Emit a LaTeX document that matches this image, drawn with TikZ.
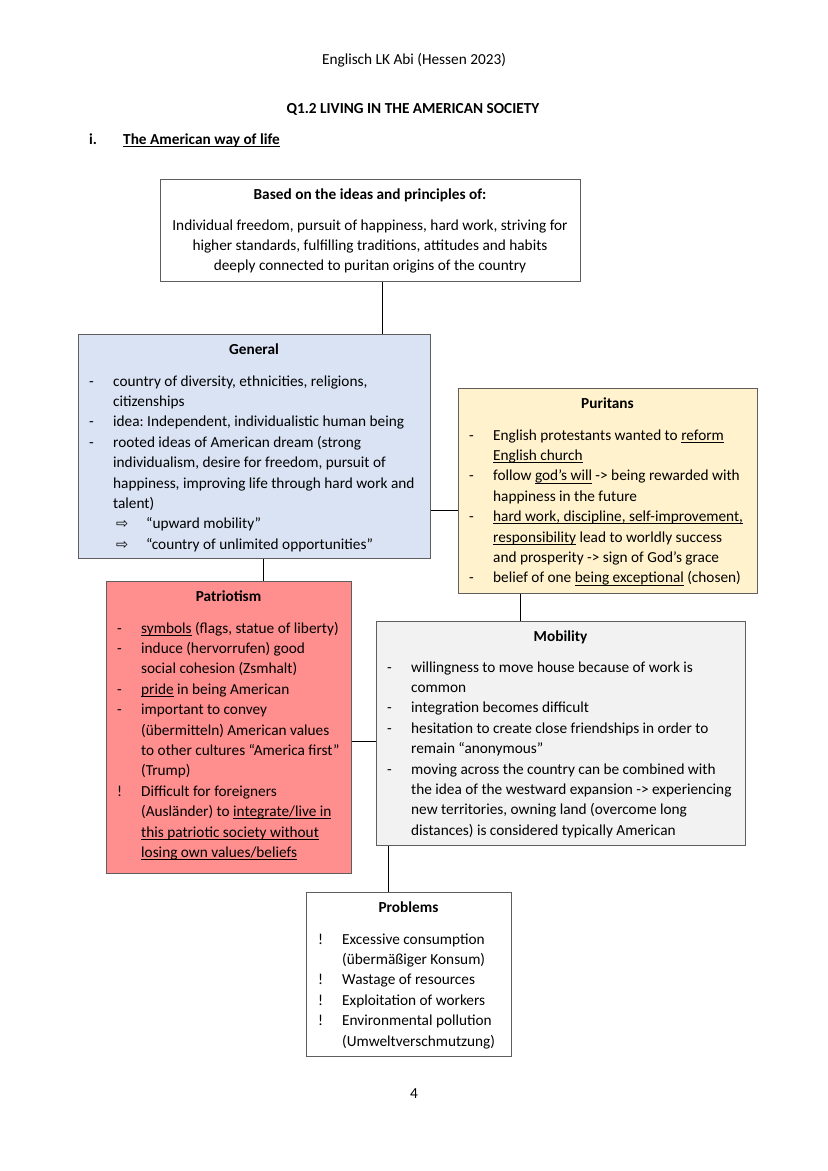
\documentclass[tikz,border=0pt]{standalone}
\usepackage{fontspec}
\setmainfont{Carlito}
\newfontfamily\symfont{DejaVu Sans}
\usetikzlibrary{calc}
\frenchspacing
\definecolor{genblue}{HTML}{DAE3F3}
\definecolor{puryellow}{HTML}{FFF2CC}
\definecolor{patred}{HTML}{FF8E8E}
\definecolor{mobgray}{HTML}{F2F2F2}
\definecolor{boxline}{HTML}{5E5E5E}
\newcommand{\uln}[1]{\setbox0\hbox{#1}\rlap{\rule[-2.6pt]{\wd0}{0.75pt}}\box0\relax}
\newcommand{\arr}{\makebox[33pt][l]{\hspace{3pt}{\symfont\fontsize{14.5}{14.5}\selectfont ⇨}}}
\newenvironment{blist}{\begin{tabular}[t]{@{}p{24pt}@{}l@{}}}{\end{tabular}}
\begin{document}
\begin{tikzpicture}[x=1pt,y=-1pt,
  txt/.style={inner sep=0pt, font=\fontsize{15.3}{20.4}\selectfont\frenchspacing},
  boxshape/.style={draw=boxline, line width=0.8pt, inner sep=0pt, anchor=north west},
  conn/.style={draw=black, line width=0.8pt}]
\useasboundingbox[fill=white] (0,0) rectangle (828,1171);

% header
\node[txt, anchor=base] (hdr) at (414,64) {Englisch LK Abi (Hessen 2023)};
\node[txt, anchor=base, font=\fontsize{15.3}{20.4}\selectfont\bfseries] (ttl) at (413,113) {Q1.2 LIVING IN THE AMERICAN SOCIETY};
\node[txt, anchor=base west, font=\fontsize{15.3}{20.4}\selectfont\bfseries] (secnum) at (89,144) {i.};
\node[txt, anchor=base west, font=\fontsize{15.3}{20.4}\selectfont\bfseries] (sec) at (123,144) {\uln{The American way of life}};

% boxes
\node[boxshape, minimum width=420pt, minimum height=102pt] (top) at (160,179) {};
\node[boxshape, fill=genblue, minimum width=352pt, minimum height=224pt] (gen) at (78,334) {};
\node[boxshape, fill=puryellow, minimum width=299pt, minimum height=205pt] (pur) at (458,388) {};
\node[boxshape, fill=patred, minimum width=245pt, minimum height=292pt] (pat) at (106,581) {};
\node[boxshape, fill=mobgray, minimum width=369pt, minimum height=224pt] (mob) at (376,621) {};
\node[boxshape, minimum width=205pt, minimum height=164pt] (prob) at (306,892) {};

% connectors
\draw[conn] ([xshift=12pt]top.south) -- ([xshift=12pt]top.south |- gen.north);
\draw[conn] ([yshift=48pt]gen.south east) -- ([yshift=48pt]gen.south east -| pur.west);
\draw[conn] ([xshift=9pt]gen.south) -- ([xshift=9pt]gen.south |- pat.north);
\draw[conn] ([xshift=62pt]pur.south west) -- ([xshift=62pt]pur.south west |- mob.north);
\draw[conn] ([yshift=-160pt]pat.north east) -- ([yshift=-160pt]pat.north east -| mob.west);
\draw[conn] ([xshift=12pt]mob.south west) -- ([xshift=12pt]mob.south west |- prob.north);

% top box text
\node[txt, anchor=base, font=\fontsize{15.3}{20.4}\selectfont\bfseries] (topT) at (370,199) {Based on the ideas and principles of:};
\node[txt, anchor=base] (topB) at (370,230) {\begin{tabular}[t]{@{}c@{}}
Individual freedom, pursuit of happiness, hard work, striving for\\
higher standards, fulfilling traditions, attitudes and habits\\
deeply connected to puritan origins of the country\end{tabular}};

% General
\node[txt, anchor=base, font=\fontsize{15.3}{20.4}\selectfont\bfseries] (genT) at (254,354) {General};
\node[txt, anchor=base west] (genB) at (89,386) {\begin{blist}
- & country of diversity, ethnicities, religions,\\
  & citizenships\\
- & idea: Independent, individualistic human being\\
- & rooted ideas of American dream (strong\\
  & individualism, desire for freedom, pursuit of\\
  & happiness, improving life through hard work and\\
  & talent)\\
  & \arr “upward mobility”\\
  & \arr “country of unlimited opportunities”
\end{blist}};

% Puritans
\node[txt, anchor=base, font=\fontsize{15.3}{20.4}\selectfont\bfseries] (purT) at (607.5,408) {Puritans};
\node[txt, anchor=base west] (purB) at (469,440) {\begin{blist}
- & English protestants wanted to \uln{reform}\\
  & \uln{English church}\\
- & follow \uln{god’s will} -> being rewarded with\\
  & happiness in the future\\
- & \uln{hard work, discipline, self-improvement,}\\
  & \uln{responsibility} lead to worldly success\\
  & and prosperity -> sign of God’s grace\\
- & belief of one \uln{being exceptional} (chosen)
\end{blist}};

% Patriotism
\node[txt, anchor=base, font=\fontsize{15.3}{20.4}\selectfont\bfseries] (patT) at (228.5,601) {Patriotism};
\node[txt, anchor=base west] (patB) at (117,633) {\begin{blist}
- & \uln{symbols} (flags, statue of liberty)\\
- & induce (hervorrufen) good\\
  & social cohesion (Zsmhalt)\\
- & \uln{pride} in being American\\
- & important to convey\\
  & (übermitteln) American values\\
  & to other cultures “America first”\\
  & (Trump)\\
! & Difficult for foreigners\\
  & (Ausländer) to \uln{integrate/live in}\\
  & \uln{this patriotic society without}\\
  & \uln{losing own values/beliefs}
\end{blist}};

% Mobility
\node[txt, anchor=base, font=\fontsize{15.3}{20.4}\selectfont\bfseries] (mobT) at (560.5,641) {Mobility};
\node[txt, anchor=base west] (mobB) at (387,672) {\begin{blist}
- & willingness to move house because of work is\\
  & common\\
- & integration becomes difficult\\
- & hesitation to create close friendships in order to\\
  & remain “anonymous”\\
- & moving across the country can be combined with\\
  & the idea of the westward expansion -> experiencing\\
  & new territories, owning land (overcome long\\
  & distances) is considered typically American
\end{blist}};

% Problems
\node[txt, anchor=base, font=\fontsize{15.3}{20.4}\selectfont\bfseries] (probT) at (408.5,912) {Problems};
\node[txt, anchor=base west] (probB) at (318,944) {\begin{blist}
! & Excessive consumption\\
  & (übermäßiger Konsum)\\
! & Wastage of resources\\
! & Exploitation of workers\\
! & Environmental pollution\\
  & (Umweltverschmutzung)
\end{blist}};

% page number
\node[txt, anchor=base] (pgno) at (414,1098) {4};
\end{tikzpicture}
\end{document}
